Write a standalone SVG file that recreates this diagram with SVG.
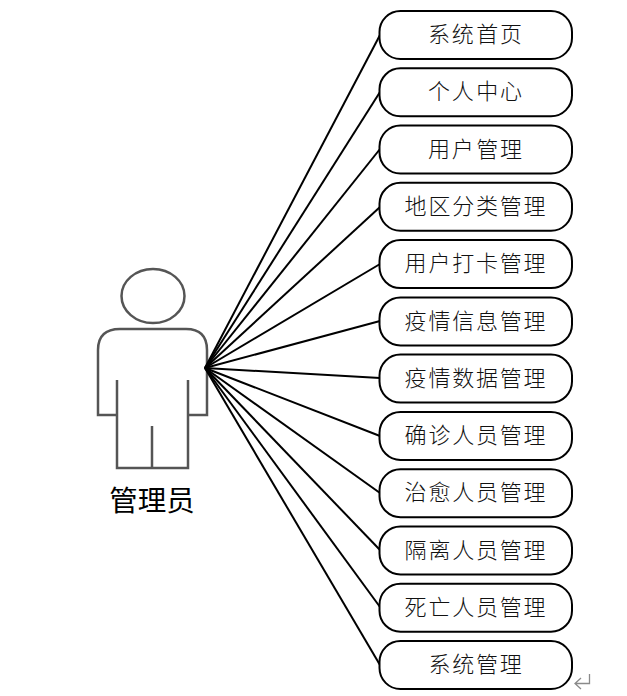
<svg xmlns="http://www.w3.org/2000/svg" width="627" height="696" viewBox="0 0 627 696">
<style>
.n rect{fill:#fff;stroke:#000;stroke-width:2}
.n text{font-family:"Noto Sans CJK SC","Liberation Serif",serif;font-size:22px;font-weight:300;letter-spacing:1.8px;word-spacing:-6px;text-anchor:middle;fill:#111}
#connectors line{stroke:#000;stroke-width:2}
.fig{fill:none;stroke:#555;stroke-width:2.5;filter:url(#b)}
</style>
<defs><filter id="b" x="-5%" y="-5%" width="110%" height="110%"><feGaussianBlur stdDeviation="0.75"/></filter></defs>
<rect width="627" height="696" fill="#fff"/>
<g id="actor">
<ellipse class="fig" cx="153" cy="296" rx="31.5" ry="27"/>
<path class="fig" d="M117 415H98V350Q98 329 120 329H186Q207 329 207 350V415H188M117 380V468H188V380M152 426V468"/>
<text x="152" y="511" style="font-family:'Noto Sans CJK SC',sans-serif;font-size:28.500px;text-anchor:middle;fill:#000">管理员</text>
</g>
<g id="connectors">
<line x1="205" y1="368" x2="380" y2="35"/>
<line x1="205" y1="368" x2="380" y2="92"/>
<line x1="205" y1="368" x2="380" y2="149"/>
<line x1="205" y1="368" x2="380" y2="207"/>
<line x1="205" y1="368" x2="380" y2="264"/>
<line x1="205" y1="368" x2="380" y2="321"/>
<line x1="205" y1="368" x2="380" y2="378"/>
<line x1="205" y1="368" x2="380" y2="436"/>
<line x1="205" y1="368" x2="380" y2="493"/>
<line x1="205" y1="368" x2="380" y2="550"/>
<line x1="205" y1="368" x2="380" y2="607"/>
<line x1="205" y1="368" x2="380" y2="665"/>
</g>
<g id="n1" class="n"><rect x="379.500" y="11" width="192.500" height="48" rx="21"/><text x="476" y="42">系统 首页</text></g>
<g id="n2" class="n"><rect x="379.500" y="68.300" width="192.500" height="48" rx="21"/><text x="476" y="99">个人 中心</text></g>
<g id="n3" class="n"><rect x="379.500" y="125.500" width="192.500" height="48" rx="21"/><text x="476" y="157">用户 管理</text></g>
<g id="n4" class="n"><rect x="379.500" y="182.800" width="192.500" height="48" rx="21"/><text x="476" y="214">地区分类管理</text></g>
<g id="n5" class="n"><rect x="379.500" y="240.100" width="192.500" height="48" rx="21"/><text x="476" y="271">用户打卡管理</text></g>
<g id="n6" class="n"><rect x="379.500" y="297.400" width="192.500" height="48" rx="21"/><text x="476" y="329">疫情信息管理</text></g>
<g id="n7" class="n"><rect x="379.500" y="354.600" width="192.500" height="48" rx="21"/><text x="476" y="386">疫情数据管理</text></g>
<g id="n8" class="n"><rect x="379.500" y="411.900" width="192.500" height="48" rx="21"/><text x="476" y="443">确诊人员管理</text></g>
<g id="n9" class="n"><rect x="379.500" y="469.200" width="192.500" height="48" rx="21"/><text x="476" y="500">治愈人员管理</text></g>
<g id="n10" class="n"><rect x="379.500" y="526.400" width="192.500" height="48" rx="21"/><text x="476" y="558">隔离人员管理</text></g>
<g id="n11" class="n"><rect x="379.500" y="583.700" width="192.500" height="48" rx="21"/><text x="476" y="615">死亡人员管理</text></g>
<g id="n12" class="n"><rect x="379.500" y="641" width="192.500" height="48" rx="21"/><text x="476" y="672">系统管理</text></g>
<path d="M589.500 674V683.500H575M581 678L575 683.500L581 689" fill="none" stroke="#8a8a8a" stroke-width="1.300"/>
</svg>
